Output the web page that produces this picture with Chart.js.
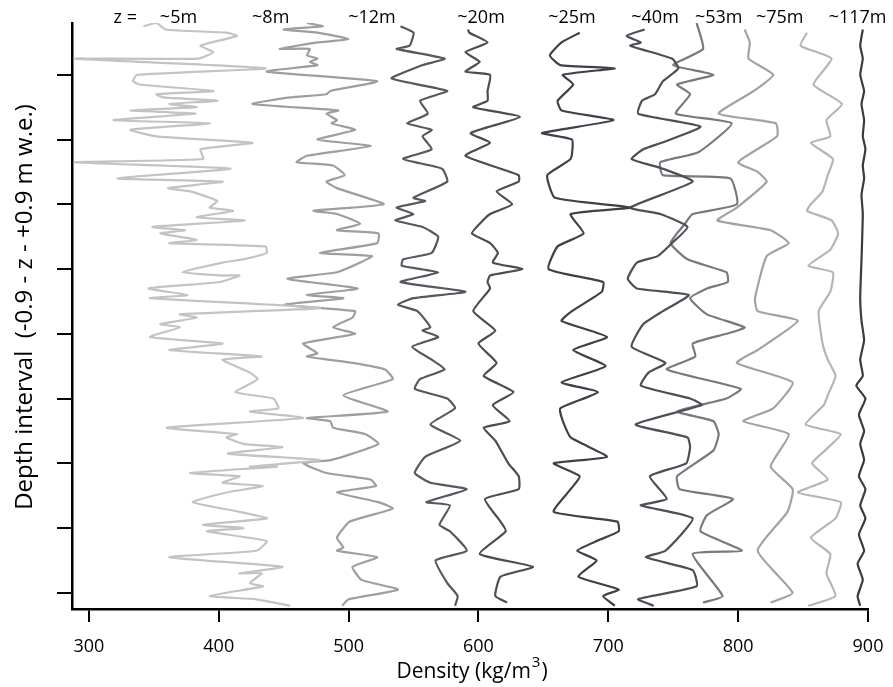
<!DOCTYPE html>
<html>
<head>
<meta charset="utf-8">
<script src="https://cdn.jsdelivr.net/npm/chart.js@4.4.0/dist/chart.umd.min.js"></script>
<style>
  html, body { margin: 0; padding: 0; background: #fff; }
</style>
</head>
<body>
<canvas id="profiles" width="893" height="687"></canvas>
<script>
// --- Data: each point is [density (kg/m3), depth within interval (cm)] ---
const z5m = [[342,-95],[352,-96],[359,-94],[406,-93],[414,-92],[386,-89],[396,-87],[384,-85],[289,-85],[436,-82],[337,-80],[334,-78],[339,-77],[396,-75],[352,-74],[357,-73],[399,-72],[362,-71],[383,-70],[332,-69],[382,-68],[319,-66],[393,-65],[332,-63],[352,-61],[426,-59],[386,-57],[388,-54],[289,-53],[409,-51],[322,-48],[403,-47],[361,-45],[378,-44],[386,-43],[399,-41],[393,-39],[411,-38],[383,-36],[420,-35],[349,-33],[374,-32],[355,-31],[383,-29],[362,-28],[436,-27],[437,-25],[419,-23],[403,-22],[372,-19],[403,-18],[416,-18],[401,-16],[346,-14],[376,-12],[347,-11],[478,-8],[370,-6],[383,-5],[355,-3],[370,-2],[347,1],[403,3],[362,5],[433,7],[403,8],[424,12],[430,14],[413,18],[442,20],[446,23],[424,24],[465,26],[360,29],[414,31],[406,32],[419,34],[449,35],[407,37],[478,39],[424,41],[445,41],[378,43],[416,44],[403,46],[434,47],[406,49],[380,52],[416,55],[437,57],[388,59],[419,60],[391,61],[437,64],[429,67],[362,69],[449,72],[416,74],[433,74],[424,77],[434,78],[393,81],[429,82],[455,84]];
const z8m = [[468,-96],[480,-95],[450,-94],[476,-93],[500,-91],[476,-90],[447,-88],[470,-88],[468,-86],[476,-85],[470,-84],[476,-83],[437,-81],[522,-78],[486,-75],[483,-74],[455,-73],[426,-71],[492,-69],[483,-68],[491,-66],[487,-65],[505,-63],[476,-60],[517,-58],[468,-55],[460,-53],[488,-52],[497,-49],[483,-47],[491,-45],[527,-40],[473,-38],[491,-37],[509,-34],[491,-32],[523,-31],[522,-28],[478,-25],[518,-24],[509,-22],[491,-19],[453,-17],[507,-14],[468,-12],[496,-11],[451,-9],[505,-7],[503,-5],[488,-2],[505,0],[465,3],[476,6],[468,7],[503,9],[528,11],[534,14],[496,19],[530,24],[468,26],[486,27],[488,29],[513,31],[523,34],[503,37],[486,39],[465,40],[483,43],[517,45],[521,47],[491,49],[523,52],[534,54],[501,58],[491,63],[496,66],[491,67],[522,69],[503,72],[510,76],[538,79],[500,82],[495,84]];
const z12m = [[540,-95],[550,-93],[547,-89],[537,-88],[574,-85],[557,-83],[533,-79],[541,-78],[576,-75],[555,-72],[561,-68],[545,-65],[564,-63],[557,-61],[564,-57],[542,-54],[572,-51],[576,-47],[550,-42],[559,-41],[537,-39],[550,-37],[536,-35],[557,-33],[569,-30],[564,-25],[542,-23],[541,-21],[569,-19],[540,-16],[590,-13],[550,-11],[538,-9],[553,-7],[563,-2],[557,-1],[569,1],[549,4],[564,8],[574,11],[555,14],[551,17],[576,20],[582,23],[563,28],[586,33],[559,38],[551,43],[563,46],[591,48],[560,52],[578,53],[570,59],[578,61],[591,67],[567,70],[576,77],[584,81],[582,84]];
const z20m = [[592,-94],[593,-93],[607,-90],[590,-87],[601,-84],[590,-81],[609,-80],[607,-75],[607,-72],[596,-70],[632,-67],[594,-62],[609,-59],[590,-55],[631,-49],[631,-47],[614,-44],[626,-40],[609,-37],[601,-34],[595,-31],[609,-28],[615,-25],[611,-22],[634,-20],[609,-18],[607,-16],[609,-14],[596,-7],[613,-1],[600,3],[614,9],[604,13],[627,18],[611,22],[624,27],[604,29],[613,33],[623,40],[631,44],[631,48],[605,51],[617,58],[621,61],[601,68],[642,72],[617,75],[613,81],[622,83]];
const z25m = [[678,-93],[664,-90],[655,-86],[663,-83],[705,-82],[665,-80],[673,-77],[661,-72],[664,-69],[704,-66],[649,-62],[672,-60],[671,-54],[653,-49],[659,-42],[717,-39],[671,-37],[681,-31],[661,-27],[654,-20],[696,-16],[695,-13],[672,-7],[664,-4],[699,1],[673,5],[698,10],[664,15],[692,18],[663,23],[665,27],[671,32],[699,38],[658,40],[678,44],[671,48],[658,55],[707,58],[708,61],[691,64],[676,67],[691,70],[677,75],[708,79],[696,81],[705,84]];
const z40m = [[728,-94],[714,-92],[725,-90],[717,-89],[749,-85],[754,-82],[742,-78],[736,-74],[726,-72],[723,-68],[771,-64],[741,-59],[727,-57],[718,-54],[742,-51],[765,-47],[717,-39],[740,-37],[761,-33],[749,-28],[738,-24],[722,-22],[715,-17],[722,-14],[762,-12],[742,-7],[727,-3],[718,4],[744,9],[731,12],[725,16],[763,20],[772,22],[721,28],[761,32],[763,35],[760,40],[732,44],[745,51],[725,53],[765,57],[744,67],[729,69],[765,73],[768,78],[723,82],[735,84]];
const z53m = [[768,-96],[773,-88],[750,-83],[781,-80],[753,-77],[763,-74],[752,-68],[795,-65],[769,-56],[740,-53],[742,-49],[794,-48],[799,-40],[765,-37],[759,-34],[748,-28],[761,-23],[791,-19],[792,-16],[776,-14],[763,-11],[776,-6],[805,-2],[791,0],[765,3],[767,7],[745,11],[802,17],[791,20],[753,24],[781,27],[785,31],[781,36],[753,44],[755,48],[796,51],[776,56],[771,61],[803,67],[765,68],[788,81],[773,83]];
const z60m = [[805,-94],[809,-90],[808,-85],[827,-80],[812,-75],[785,-68],[829,-65],[830,-61],[800,-53],[815,-50],[822,-47],[799,-39],[784,-35],[825,-32],[839,-28],[822,-24],[813,-11],[815,-7],[846,-4],[815,5],[799,9],[842,15],[827,23],[804,27],[839,31],[825,41],[842,48],[838,55],[815,67],[842,80],[825,83]];
const z75m = [[853,-93],[848,-89],[872,-85],[858,-77],[880,-71],[868,-66],[871,-61],[856,-59],[873,-54],[869,-49],[865,-44],[856,-40],[853,-38],[872,-35],[877,-31],[871,-26],[854,-21],[873,-19],[871,-13],[862,-7],[865,3],[869,8],[875,13],[869,19],[866,22],[852,28],[879,31],[867,36],[857,40],[869,45],[846,49],[879,52],[875,57],[856,63],[871,68],[868,74],[875,81],[854,84]];
const z117m = [[896,-94],[894,-89],[896,-85],[894,-80],[897,-75],[895,-71],[897,-66],[896,-61],[898,-57],[896,-52],[897,-48],[895,-43],[896,-37],[895,-23],[894,-11],[895,-4],[897,2],[894,8],[896,13],[891,16],[898,20],[893,25],[897,30],[894,34],[897,39],[893,44],[898,48],[894,53],[898,57],[893,62],[897,67],[892,71],[896,76],[892,81],[894,84]];

const profiles = [z5m, z8m, z12m, z20m, z25m, z40m, z53m, z60m, z75m, z117m];
const profileColors = ['#c3c3c3', '#9c9ea2', '#55585e', '#4a4d52', '#3e4147', '#4c4f55', '#76797e', '#a2a2a4', '#b5b5b5', '#3a3b3d'];

// depth labels along the top, placed at a density value
const labelNames = ['z =', '~5m', '~8m', '~12m', '~20m', '~25m', '~40m', '~53m', '~75m', '~117m'];
const labelDensities = [328, 369, 440, 518, 602, 672, 736, 785, 832, 892];

const densityTicks = [300, 400, 500, 600, 700, 800, 900];
const depthTicks = [-80, -60, -40, -20, 0, 20, 40, 60, 80];

const depthTitle = 'Depth interval  (-0.9 - z - +0.9 m w.e.)';
const fontFamily = "'Open Sans', 'Noto Sans', sans-serif";

// --- Text plugin: top labels, tick labels and both axis titles ---
const chartText = {
    id: 'chartText',
    afterDraw(chart) {
        const { ctx, scales: { x }, chartArea } = chart;
        ctx.save();
        ctx.fillStyle = '#000';
        ctx.textAlign = 'center';
        ctx.textBaseline = 'middle';

        ctx.font = `18px ${fontFamily}`;
        labelNames.forEach((name, i) => {
            ctx.fillText(name, x.getPixelForValue(labelDensities[i]), 18);
        });

        ctx.font = `18px ${fontFamily}`;
        densityTicks.forEach(v => {
            ctx.fillText(String(v), x.getPixelForValue(v), chartArea.bottom + 38);
        });

        // depth title, rotated
        ctx.save();
        ctx.translate(25, 307);
        ctx.rotate(-Math.PI / 2);
        ctx.font = `24px ${fontFamily}`;
        ctx.fillText(depthTitle, 0, 0);
        ctx.restore();

        // density title with a raised 3
        const main = 'Density (kg/m';
        ctx.font = `21px ${fontFamily}`;
        const wMain = ctx.measureText(main).width;
        const wParen = ctx.measureText(')').width;
        ctx.font = `15px ${fontFamily}`;
        const wSup = ctx.measureText('3').width + 2;
        const total = wMain + wSup + wParen;
        const left = (chartArea.left + chartArea.right) / 2 - total / 2 + 2;
        const base = chartArea.bottom + 69;
        ctx.textAlign = 'left';
        ctx.textBaseline = 'alphabetic';
        ctx.font = `21px ${fontFamily}`;
        ctx.fillText(main, left, base);
        ctx.font = `15px ${fontFamily}`;
        ctx.fillText('3', left + wMain + 1, base - 11);
        ctx.font = `21px ${fontFamily}`;
        ctx.fillText(')', left + wMain + wSup, base);
        ctx.restore();
    }
};

const datasets = profiles.map((pts, i) => ({
    data: pts.map(p => ({ x: p[0], y: p[1] })),
    showLine: true,
    borderColor: profileColors[i],
    borderWidth: 2.2,
    pointRadius: 0,
    tension: 0.15,
    fill: false
}));

new Chart(document.getElementById('profiles'), {
    type: 'scatter',
    data: { datasets },
    options: {
        responsive: false,
        animation: false,
        devicePixelRatio: 1,
        layout: { padding: { top: 23, right: 25, left: 0, bottom: 0 } },
        plugins: { legend: { display: false }, tooltip: { enabled: false } },
        scales: {
            x: {
                type: 'linear',
                min: 287,
                max: 900,
                afterBuildTicks: (scale) => { scale.ticks = densityTicks.map(v => ({ value: v })); },
                afterFit: (scale) => { scale.height = 78; },
                grid: { display: true, drawOnChartArea: false, drawTicks: true, tickLength: 13, color: '#000', lineWidth: 2 },
                border: { display: true, color: '#000', width: 2.5 },
                ticks: { display: false }
            },
            y: {
                type: 'linear',
                reverse: true,
                min: -96,
                max: 85,
                afterBuildTicks: (scale) => { scale.ticks = depthTicks.map(v => ({ value: v })); },
                afterFit: (scale) => { scale.width = 72; },
                grid: { display: true, drawOnChartArea: false, drawTicks: true, tickLength: 15, color: '#000', lineWidth: 2 },
                border: { display: true, color: '#000', width: 2.5 },
                ticks: { display: false }
            }
        }
    },
    plugins: [chartText]
});
</script>
</body>
</html>
